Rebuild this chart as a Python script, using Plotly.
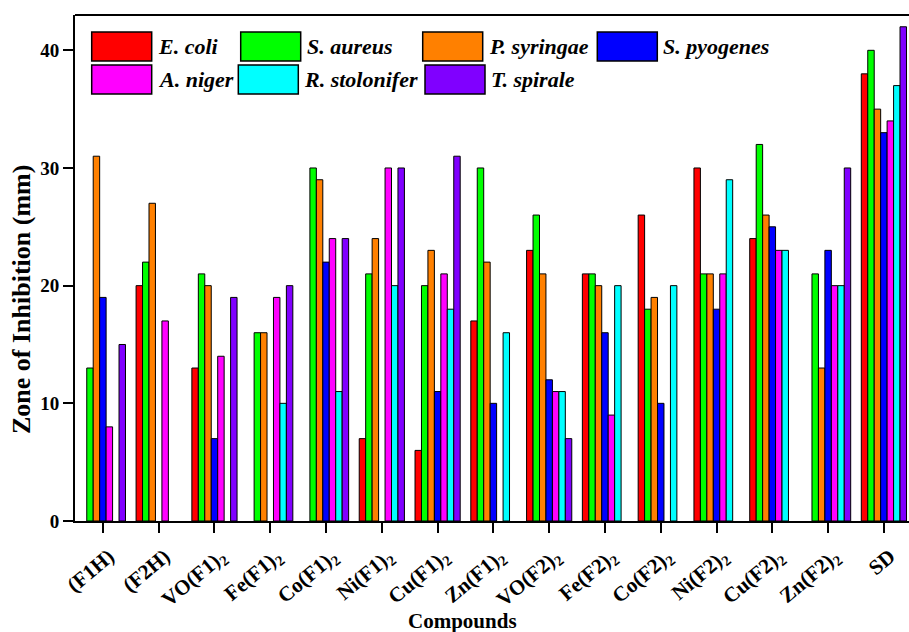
import plotly.graph_objects as go

# Compounds tested (x categories)
compounds = [
    "(F1H)", "(F2H)",
    "VO(F1)<sub>2</sub>", "Fe(F1)<sub>2</sub>", "Co(F1)<sub>2</sub>",
    "Ni(F1)<sub>2</sub>", "Cu(F1)<sub>2</sub>", "Zn(F1)<sub>2</sub>",
    "VO(F2)<sub>2</sub>", "Fe(F2)<sub>2</sub>", "Co(F2)<sub>2</sub>",
    "Ni(F2)<sub>2</sub>", "Cu(F2)<sub>2</sub>", "Zn(F2)<sub>2</sub>",
    "SD",
]

organisms = ["E. coli", "S. aureus", "P. syringae", "S. pyogenes",
             "A. niger", "R. stolonifer", "T. spirale"]

# Zone of inhibition (mm); None = no activity recorded
e_coli        = [None, 20, 13, None, None, 7, 6, 17, 23, 21, 26, 30, 24, None, 38]
s_aureus      = [13, 22, 21, 16, 30, 21, 20, 30, 26, 21, 18, 21, 32, 21, 40]
p_syringae    = [31, 27, 20, 16, 29, 24, 23, 22, 21, 20, 19, 21, 26, 13, 35]
s_pyogenes    = [19, None, 7, None, 22, None, 11, 10, 12, 16, 10, 18, 25, 23, 33]
a_niger       = [8, 17, 14, 19, 24, 30, 21, None, 11, 9, None, 21, 23, 20, 34]
r_stolonifer  = [None, None, None, 10, 11, 20, 18, 16, 11, 20, 20, 29, 23, 20, 37]
t_spirale     = [15, None, 19, 20, 24, 30, 31, None, 7, None, None, None, None, 30, 42]

series = [e_coli, s_aureus, p_syringae, s_pyogenes, a_niger, r_stolonifer, t_spirale]
colors = ["#FF0000", "#00FF00", "#FF8000", "#0000FF", "#FF00FF", "#00FFFF", "#8000FF"]

FONT = "Liberation Serif, Times New Roman, serif"
W, H = 909, 632
ML, MR, MT, MB = 75, 0, 15, 111
PW, PH = W - ML - MR, H - MT - MB


def px(x):
    return (x - ML) / PW


def py(y):
    return (H - MB - y) / PH


fig = go.Figure()
for name, vals, col in zip(organisms, series, colors):
    fig.add_trace(go.Bar(
        x=compounds, y=vals, name=name,
        marker=dict(color=col, line=dict(color="black", width=1)),
        showlegend=False,
    ))

# Hand-built legend: two rows of large swatches with italic names
legend_rows = [
    [(91.7, 0), (240.7, 1), (422.7, 2), (597.3, 3)],
    [(91.7, 4), (238.3, 5), (425.0, 6)],
]
row_tops = [32, 65]
sw_w, sw_h = 60, 29
shapes = []
annotations = []
for row, top in zip(legend_rows, row_tops):
    for x0, idx in row:
        shapes.append(dict(
            type="rect", xref="paper", yref="paper",
            x0=px(x0), x1=px(x0 + sw_w), y0=py(top + sw_h), y1=py(top),
            fillcolor=colors[idx], line=dict(color="black", width=1.5),
        ))
        annotations.append(dict(
            xref="paper", yref="paper", x=px(x0 + sw_w + 4), y=py(top + sw_h / 2),
            xanchor="left", yanchor="middle", showarrow=False,
            text="<b><i>%s</i></b>" % organisms[idx],
            font=dict(family=FONT, size=22, color="black"),
        ))

# top frame line
shapes.append(dict(type="line", xref="paper", yref="paper",
                   x0=0, x1=1, y0=1, y1=1, line=dict(color="black", width=2)))

# axis titles
annotations.append(dict(
    xref="paper", yref="paper", x=px(462), y=py(635),
    xanchor="center", yanchor="bottom", showarrow=False,
    text="<b>Compounds</b>", font=dict(family=FONT, size=21, color="black"),
))
annotations.append(dict(
    xref="paper", yref="paper", x=px(21), y=py(300),
    xanchor="center", yanchor="middle", showarrow=False, textangle=-90,
    text="<b>Zone of Inhibition (mm)</b>", font=dict(family=FONT, size=26, color="black"),
))

fig.update_layout(
    width=W, height=H,
    margin=dict(l=ML, r=MR, t=MT, b=MB, pad=0),
    paper_bgcolor="white", plot_bgcolor="white",
    barmode="group", bargap=0.19, bargroupgap=0,
    shapes=shapes, annotations=annotations,
    font=dict(family=FONT, color="black"),
)
fig.update_xaxes(
    type="category", range=[-0.5, 14.45],
    showline=True, linecolor="black", linewidth=2,
    ticks="outside", ticklen=10, tickwidth=2, tickcolor="black",
    tickangle=-40, showgrid=False, zeroline=False,
    ticklabelshift=6, ticklabelstandoff=3,
    tickfont=dict(family=FONT, size=21, color="black", weight="bold"),
)
fig.update_yaxes(
    range=[0, 43], tickvals=[0, 10, 20, 30, 40],
    showline=True, linecolor="black", linewidth=2,
    ticks="outside", ticklen=10, tickwidth=2, tickcolor="black",
    showgrid=False, zeroline=False,
    tickfont=dict(family=FONT, size=19, color="black", weight="bold"),
)

fig.write_html("out.html")
